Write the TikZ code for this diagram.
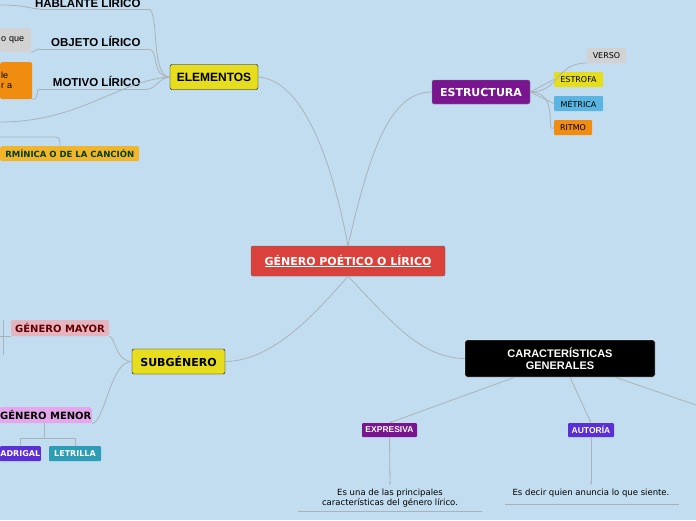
\documentclass[tikz,border=0pt]{standalone}
\usepackage{fontspec}
\setmainfont{Liberation Sans}
\newfontfamily\vf{DejaVu Sans}
\usetikzlibrary{arrows.meta}
\definecolor{bg}{HTML}{C2DDF0}
\definecolor{ln}{HTML}{A9B3BA}
\definecolor{cred}{HTML}{D9413A}
\definecolor{cyel}{HTML}{E6DD1F}
\definecolor{cpur}{HTML}{7A1590}
\definecolor{cgray}{HTML}{D2D2D2}
\definecolor{cblu}{HTML}{5AB6E0}
\definecolor{cora}{HTML}{F08C10}
\definecolor{cpink}{HTML}{E5B5BF}
\definecolor{cviol}{HTML}{E6A6EC}
\definecolor{cbv}{HTML}{5B2FD6}
\definecolor{cteal}{HTML}{2C9DB5}
\definecolor{cgold}{HTML}{F2B42A}
\newcommand{\fs}[1]{\fontsize{#1}{#1}\selectfont}
\tikzset{
 box/.style={rounded corners=2pt,inner sep=0pt},
 tag/.style={rounded corners=1pt,inner sep=0pt,font=\vf\fs{8}},
 con/.style={draw=ln,line width=0.8pt},
 arr/.style={con,-{Stealth[length=3pt]}},
}
\begin{document}
\begin{tikzpicture}[x=1pt,y=-1pt]
\fill[bg] (0,0) rectangle (696,520);
\useasboundingbox (0,0) rectangle (696,520);
% nodes
\node[box,fill=cred,draw=black!60,minimum width=194,minimum height=30,text=white,font=\vf\bfseries\fs{11}] (main) at (348,261) {\underline{GÉNERO POÉTICO O LÍRICO}};
\node[box,fill=cyel,draw=black,minimum width=88,minimum height=25,font=\bfseries\fs{12}] (el) at (214,77) {ELEMENTOS};
\node[font=\bfseries\fs{11.5},anchor=east] (hab) at (144,2) {HABLANTE LÍRICO};
\node[font=\bfseries\fs{11.5},anchor=east] (obj) at (144,41) {OBJETO LÍRICO};
\node[font=\bfseries\fs{11.5},anchor=east] (mot) at (144,81) {MOTIVO LÍRICO};
\node[box,fill=cgray,minimum width=31,minimum height=24,anchor=north west,font=\fs{9},text width=29,align=left] (gb) at (0,28) {o que\\[6pt]};
\node[box,fill=cora,minimum width=32,minimum height=37,anchor=north west,font=\fs{9},text width=30,align=left] (ob) at (0,62) {le\\[1pt]r a\\[10pt]};
\node[box,fill=cgold,minimum width=139,minimum height=15,anchor=north west,font=\vf\bfseries\fs{8.5},text=green!25!black] (can) at (0,146) {RMÍNICA O DE LA CANCIÓN};
\node[box,fill=cpur,draw=black!50,minimum width=98,minimum height=24,text=white,font=\vf\bfseries\fs{11}] (est) at (481,92) {ESTRUCTURA};
\node[tag,fill=cgray,minimum width=39,minimum height=15] (ver) at (606.5,55.5) {VERSO};
\node[tag,fill=cyel,minimum width=49,minimum height=15] (estr) at (578.5,79.5) {ESTROFA};
\node[tag,fill=cblu,minimum width=49,minimum height=15] (met) at (578.5,103.5) {MÉTRICA};
\node[tag,fill=cora,minimum width=38,minimum height=15] (rit) at (573,127.5) {RITMO};
\node[box,fill=cyel,draw=black,minimum width=93,minimum height=25,font=\vf\bfseries\fs{11}] (sub) at (178.5,361.5) {SUBGÉNERO};
\node[box,fill=cpink,minimum width=98,minimum height=16,font=\vf\bfseries\fs{10},text=red!40!black] (may) at (60,328) {GÉNERO MAYOR};
\node[box,fill=cviol,minimum width=92,minimum height=16,anchor=north east,font=\vf\bfseries\fs{10}] (men) at (92,407) {GÉNERO MENOR};
\node[tag,fill=cbv,minimum width=41,minimum height=15,anchor=north east,text=white,font=\vf\bfseries\fs{8}] (mad) at (41,446) {ADRIGAL};
\node[tag,fill=cteal,minimum width=52,minimum height=15,text=white,font=\vf\bfseries\fs{8}] (let) at (75,453.5) {LETRILLA};
\node[box,fill=black,draw=white,minimum width=190,minimum height=37,text=white,font=\bfseries\fs{11},align=center] (car) at (560,358.5) {CARACTERÍSTICAS\\[1pt]GENERALES};
\node[tag,fill=cpur,minimum width=55,minimum height=14,text=white,font=\bfseries\fs{8.5}] (exp) at (389.5,430) {EXPRESIVA};
\node[tag,fill=cbv,minimum width=46,minimum height=14,text=white,font=\bfseries\fs{8.5}] (aut) at (591,430) {AUTORÍA};
\node[font=\vf\fs{8.5},align=center] (t1) at (390,498) {Es una de las principales\\[1pt]características del género lírico.};
\node[font=\vf\fs{8.5}] (t2) at (591,493) {Es decir quien anuncia lo que siente.};
\coordinate (off) at (696,405);
% underlines
\draw[ln] (40,9)--(148,9) (40,49)--(148,49) (40,89)--(148,89);
\draw[ln] (298,511)--(482,511) (505,504)--(679,504);
% connectors
\draw[con] (main.north) .. controls (330,150) and (300,80) .. (el.east);
\draw[con] (main.north) .. controls (370,150) and (390,92) .. (est.west);
\draw[con] (main.south) .. controls (310,320) and (270,361) .. (sub.east);
\draw[con] (main.south) .. controls (390,320) and (420,358) .. (car.west);
\draw[con] (el.west) .. controls (150,77) and (160,9) .. (148,9);
\draw[con] (el.west) .. controls (150,77) and (160,49) .. (148,49);
\draw[con] (el.west) .. controls (160,77) and (155,89) .. (148,89);
\draw[con] (40,9) .. controls (30,9) and (28,5) .. (0,5);
\draw[con] (40,49) .. controls (35,49) and (35,52) .. (gb.south east);
\draw[con] (40,89) .. controls (35,89) and (40,99) .. (ob.south east);
\draw[con] (el.west) .. controls (120,80) and (80,122) .. (0,122);
\draw[con] (0,137) -- (55,137) .. controls (60,137) and (60,140) .. (60,146);
\draw[con] (est.east) .. controls (560,92) and (555,63) .. (587,63);
\draw[con] (est.east) -- (estr.west);
\draw[con] (est.east) -- (met.west);
\draw[con] (est.east) .. controls (560,92) and (545,135) .. (rit.west);
\draw[con] (sub.west) .. controls (115,361) and (115,336) .. (may.south east);
\draw[con] (sub.west) .. controls (110,361) and (105,423) .. (men.south east);
\draw[con] (11,336) -- (0,336) (3,320)--(3,355);
\draw[con] (44,423) -- (44,438) (20,446) -- (20,438) -- (75,438) -- (75,446);
\draw[arr] (car.south) ++(-45,0) -- (exp.north);
\draw[arr] (car.south) ++(10,0) -- (aut.north);
\draw[con] (car.south) ++(55,0) -- (off);
\draw[arr] (exp.south) -- (390,485);
\draw[arr] (aut.south) -- (591,485);
\end{tikzpicture}
\end{document}
